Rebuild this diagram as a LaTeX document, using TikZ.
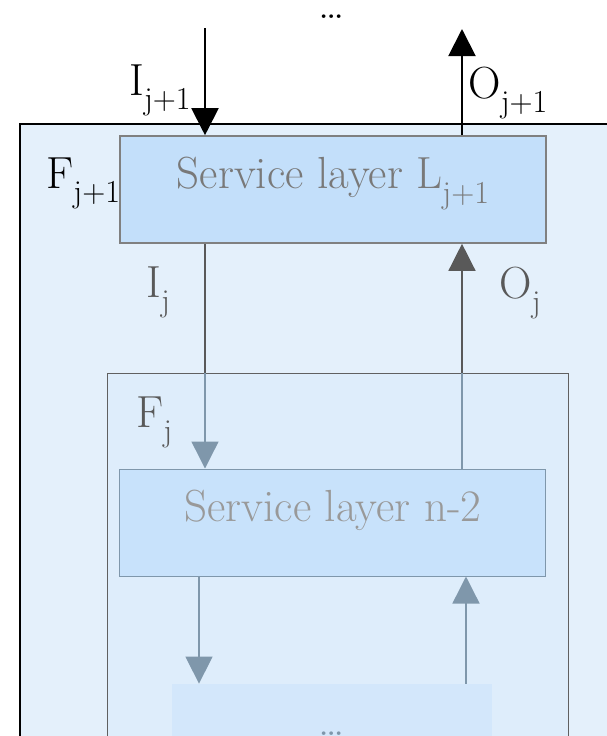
\documentclass[tikz,border=0pt]{standalone}
\usetikzlibrary{arrows.meta}
\definecolor{outerblue}{HTML}{E4F0FB}
\definecolor{frameblue}{HTML}{DEEDFB}
\definecolor{layerblue}{HTML}{C3DFFA}
\definecolor{lowblue}{HTML}{C8E2FB}
\definecolor{lastblue}{HTML}{D3E7FB}
\definecolor{fadeline}{HTML}{7F97AB}
\newcommand{\idx}[1]{\raisebox{-0.33em}{\fontsize{16}{17}\selectfont #1}}

\begin{document}
\begin{tikzpicture}[x=0.5pt, y=-0.5pt, font=\rmfamily\fontsize{22.5}{26}\selectfont,
  layer/.style={rectangle, minimum width=213pt, minimum height=53.5pt, inner sep=0pt,
    text height=0.7em, text depth=0.77em},
  lbl/.style={inner sep=0pt}]
\useasboundingbox (0,0) rectangle (607,736);
\clip (0,0) rectangle (607,736);

\node[draw=black, line width=1pt, fill=outerblue, minimum width=320pt, minimum height=358pt] (Fout) at (340,482) {};
\node[draw=gray!75!black, line width=0.5pt, fill=frameblue, minimum width=230.5pt, minimum height=230pt] (Fj) at (338.5,603) {};
\node[layer, draw=gray, line width=0.8pt, fill=layerblue, text=gray!95!black] (L) at (333,189.5) {Service layer L\idx{j+1}};
\node[layer, draw=fadeline, line width=0.5pt, fill=lowblue, text=gray!80] (N) at (333,522.5) {Service layer n-2};
\node[layer, minimum width=160pt, minimum height=50pt, fill=lastblue, text=fadeline, text height=0.1em, text depth=0pt] (B) at (332,734) {\ldots};

\coordinate (xin) at (205,0);
\coordinate (xout) at (462,0);
\coordinate (xdown) at (199,0);
\coordinate (xup) at (466,0);
\coordinate (inTop) at (205,28);
\coordinate (outTop) at (462,29);

\begin{scope}[>={Triangle[length=13.5pt, width=13.5pt]}]
\draw[->, line width=1pt] (inTop) -- (L.north -| xin);
\draw[->, line width=1pt] (L.north -| xout) -- (outTop);
\draw[gray!70!black, line width=0.7pt] (L.south -| xin) -- (Fj.north -| xin);
\draw[->, fadeline, line width=0.7pt] (Fj.north -| xin) -- (N.north -| xin);
\draw[fadeline, line width=0.7pt] (N.north -| xout) -- (Fj.north -| xout);
\draw[->, gray!70!black, line width=0.7pt] (Fj.north -| xout) -- (L.south -| xout);
\draw[->, fadeline, line width=0.7pt] (N.south -| xdown) -- (B.north -| xdown);
\draw[->, fadeline, line width=0.7pt] (B.north -| xup) -- (N.south -| xup);
\end{scope}

\node[lbl, anchor=base] (dots) at (332,18) {\ldots};
\node[lbl, anchor=base east] (inLab) at (191,95) {I\idx{j+1}};
\node[lbl, anchor=base west] (outLab) at (468,98) {O\idx{j+1}};
\node[lbl, anchor=base west] (FoutLab) at (46,188) {F\idx{j+1}};
\node[lbl, anchor=base west, text=gray!70!black] (inJLab) at (146,297) {I\idx{j}};
\node[lbl, anchor=base west, text=gray!70!black] (outJLab) at (499,298) {O\idx{j}};
\node[lbl, anchor=base west, text=gray!70!black] (FjLab) at (136,427) {F\idx{j}};
\end{tikzpicture}
\end{document}
